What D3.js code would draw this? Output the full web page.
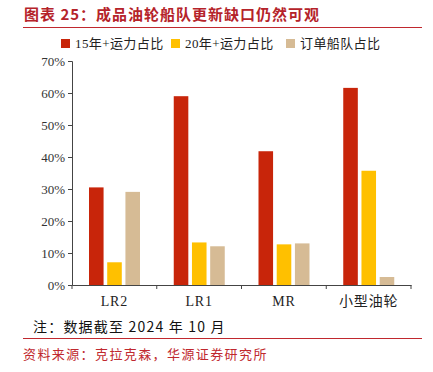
<!DOCTYPE html>
<html>
<head>
<meta charset="utf-8">
<script src="https://cdn.jsdelivr.net/npm/d3@7"></script>
<style>
  body { margin: 0; background: #fff; }
  svg text { font-family: "Liberation Serif", "Noto Sans CJK SC", serif; }
</style>
</head>
<body>
<div class="chart"></div>
<script>
// categories and series
var categories = ["LR2", "LR1", "MR", "小型油轮"];
var seriesNames = ["15年+运力占比", "20年+运力占比", "订单船队占比"];
var over15 = [30.5, 59.0, 41.8, 61.6];
var over20 = [7.1, 13.3, 12.7, 35.7];
var orderbook = [29.1, 12.1, 13.0, 2.5];
var yTicks = [0, 10, 20, 30, 40, 50, 60, 70];
var colors = ["#C8250A", "#FFC000", "#D6BB95"];

var svg = d3.select(".chart").append("svg")
            .attr("width", 433)
            .attr("height", 372);

// title + rule
svg.append("text")
   .attr("x", 24).attr("y", 20)
   .style("font-family", "'Noto Sans CJK SC', sans-serif")
   .style("font-size", "15px")
   .style("font-weight", "bold")
   .style("letter-spacing", "1px")
   .style("fill", "#B5232A")
   .text("图表 25：成品油轮船队更新缺口仍然可观");

svg.append("line")
   .attr("x1", 23).attr("x2", 422)
   .attr("y1", 27.5).attr("y2", 27.5)
   .style("stroke", "#C0282E").style("stroke-width", 1);

var series = [over15, over20, orderbook];

var x0 = d3.scaleBand().domain(categories).range([72, 411]);
var x1 = d3.scaleBand().domain(d3.range(3)).range([17, 68]).paddingInner(0.2);
var y = d3.scaleLinear().domain([0, 70]).range([285, 61]);

var axisLeft = d3.axisLeft(y).tickValues(yTicks)
                 .tickFormat(function(d) { return d + "%"; })
                 .tickSize(4).tickPadding(3);
var gy = svg.append("g").attr("transform", "translate(72,0)").call(axisLeft);
gy.select(".domain").style("stroke", "#444");
gy.selectAll(".tick line").style("stroke", "#444");
gy.selectAll("text").style("font-size", "13px").style("fill", "#333")
  .style("font-family", "'Liberation Serif', serif");

var axisBottom = d3.axisBottom(x0).tickSize(0).tickPadding(11);
var gx = svg.append("g").attr("transform", "translate(0,285)").call(axisBottom);
gx.select(".domain").style("stroke", "#444");
gx.selectAll("text").style("font-size", "14px").style("fill", "#222")
  .style("letter-spacing", "0.8px");
// band boundary ticks
gx.selectAll("line.sep")
  .data(categories.concat(["end"]))
  .enter().append("line")
  .attr("class", "sep")
  .attr("x1", function(d, i) { return i < categories.length ? x0(d) : x0.range()[1]; })
  .attr("x2", function(d, i) { return i < categories.length ? x0(d) : x0.range()[1]; })
  .attr("y1", 0).attr("y2", 4)
  .style("stroke", "#444");

// bars
var groups = svg.selectAll("g.grp")
  .data(categories)
  .enter().append("g")
  .attr("class", "grp")
  .attr("transform", function(d) { return "translate(" + x0(d) + ",0)"; });

groups.selectAll("rect")
  .data(function(d, ci) { return series.map(function(s, si) { return { si: si, v: s[ci] }; }); })
  .enter().append("rect")
  .attr("x", function(d) { return x1(d.si); })
  .attr("width", x1.bandwidth())
  .attr("y", function(d) { return y(d.v); })
  .attr("height", function(d) { return y(0) - y(d.v); })
  .style("fill", function(d) { return colors[d.si]; });

// legend
var legX = [61, 171, 286];
var legend = svg.selectAll("g.leg")
  .data(seriesNames)
  .enter().append("g")
  .attr("class", "leg")
  .attr("transform", function(d, i) { return "translate(" + legX[i] + ",39)"; });
legend.append("rect").attr("width", 9).attr("height", 9)
  .style("fill", function(d, i) { return colors[i]; });
legend.append("text").attr("x", 14).attr("y", 9)
  .style("font-size", "13px").style("fill", "#222")
  .style("letter-spacing", "0.4px")
  .text(function(d) { return d; });

// note, rule, source
svg.append("text")
   .attr("x", 33).attr("y", 332)
   .style("font-family", "'Noto Sans CJK SC', sans-serif")
   .style("font-size", "14px").style("fill", "#111")
   .style("letter-spacing", "1.2px")
   .text("注：数据截至 2024 年 10 月");

svg.append("line")
   .attr("x1", 23).attr("x2", 422)
   .attr("y1", 338.5).attr("y2", 338.5)
   .style("stroke", "#C0282E").style("stroke-width", 1);

svg.append("text")
   .attr("x", 23).attr("y", 359)
   .style("font-family", "'Noto Sans CJK SC', sans-serif")
   .style("font-size", "13px").style("fill", "#C0282E")
   .style("letter-spacing", "1.4px")
   .text("资料来源：克拉克森，华源证券研究所");
</script>
</body>
</html>
